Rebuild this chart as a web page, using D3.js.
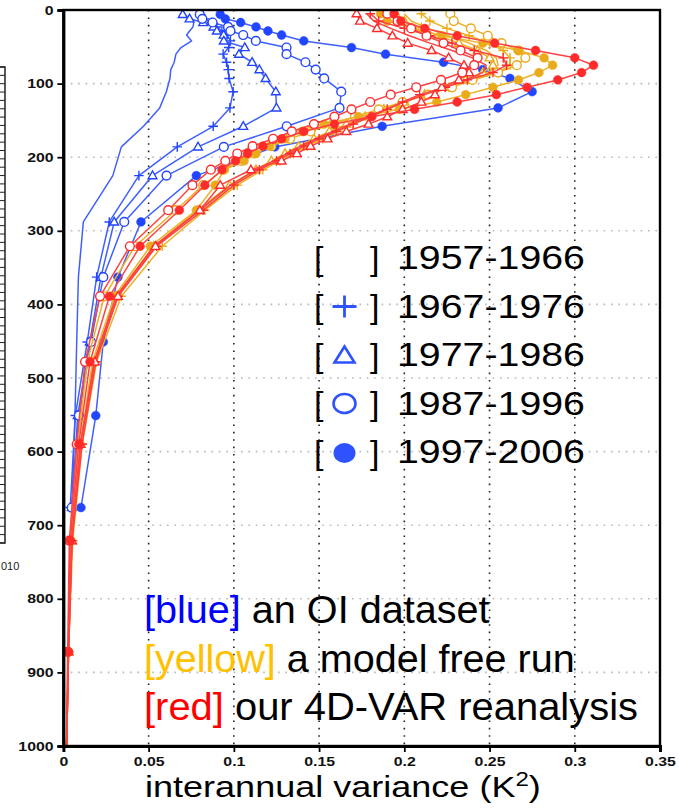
<!DOCTYPE html>
<html><head><meta charset="utf-8">
<script src="https://cdn.jsdelivr.net/npm/d3@7"></script>
<style>
html,body{margin:0;padding:0;background:#fff;}
svg{display:block;font-family:"Liberation Sans",Arial,Helvetica,sans-serif;}
</style></head><body>
<svg id="chart" width="679" height="809"></svg>
<script>
// ---------------- DATA ----------------
const xTicks = [0, 0.05, 0.1, 0.15, 0.2, 0.25, 0.3, 0.35];
const xTickLabels = ["0", "0.05", "0.1", "0.15", "0.2", "0.25", "0.3", "0.35"];
const yTicks = [0, 100, 200, 300, 400, 500, 600, 700, 800, 900, 1000];
const yTickLabels = ["0","100","200","300","400","500","600","700","800","900","1000"];

const periods = ["1957-1966", "1967-1976", "1977-1986", "1987-1996", "1997-2006"];
const periodMarkers = ["none", "plus", "triangle", "open", "filled"];

// depth levels (m)
const modelDepths = [5,15,25,35,45,55,65,75,85,95,105,115,125,135,145,155,165,175,185,195,205,217,238,272,321,389,478,590,721,872,1046];
const oiDepths = [6,12,17,23,28.5,34,42,51,60,71,81,93,111,133,158,186,225,288,363,451,551,676];

// OI dataset (blue), interannual variance K^2
const blue1957 = [0.071,0.074,0.0765,0.076,0.074,0.0723,0.0752,0.069,0.066,0.065,0.063,0.0625,0.0604,0.0565,0.047,0.034,0.029,0.0117,0.0088,0.0078,0.0068,0.005];
const blue1967 = [0.080,0.083,0.087,0.090,0.093,0.096,0.098,0.097,0.0937,0.0957,0.0967,0.0972,0.0996,0.0977,0.0879,0.0668,0.0443,0.0269,0.0195,0.014,0.007,0.004];
const blue1977 = [0.070,0.074,0.082,0.088,0.090,0.094,0.0941,0.1064,0.103,0.1107,0.115,0.1186,0.1246,0.125,0.1055,0.079,0.0523,0.0298,0.022,0.0155,0.0084,0.005];
const blue1987 = [0.080,0.0815,0.0875,0.0966,0.098,0.1055,0.1129,0.1309,0.1309,0.142,0.148,0.153,0.163,0.162,0.131,0.0941,0.0605,0.0357,0.0234,0.0162,0.0091,0.0049];
const blue1997 = [0.092,0.095,0.104,0.113,0.120,0.128,0.141,0.169,0.189,0.223,0.246,0.262,0.275,0.255,0.187,0.124,0.078,0.0455,0.032,0.0234,0.019,0.0103];

// model free run (yellow)
const yellow1957 = [0.200,0.204,0.214,0.226,0.238,0.248,0.254,0.255,0.249,0.237,0.224,0.211,0.199,0.188,0.177,0.167,0.157,0.148,0.139,0.131,0.123,0.114,0.099,0.080,0.054,0.032,0.018,0.0105,0.005,0.003,0.0015];
const yellow1967 = [0.210,0.215,0.225,0.238,0.250,0.258,0.262,0.262,0.255,0.240,0.226,0.212,0.200,0.190,0.180,0.170,0.161,0.152,0.143,0.135,0.127,0.117,0.102,0.083,0.058,0.034,0.0195,0.011,0.0055,0.003,0.0015];
const yellow1977 = [0.195,0.200,0.210,0.220,0.232,0.243,0.250,0.252,0.246,0.236,0.224,0.212,0.200,0.188,0.177,0.166,0.156,0.147,0.138,0.130,0.122,0.113,0.0975,0.079,0.053,0.031,0.018,0.010,0.005,0.003,0.0015];
const yellow1987 = [0.227,0.229,0.239,0.249,0.257,0.267,0.271,0.266,0.255,0.240,0.228,0.214,0.199,0.185,0.171,0.158,0.145,0.133,0.122,0.112,0.104,0.094,0.082,0.066,0.042,0.024,0.014,0.0085,0.004,0.0028,0.0015];
const yellow1997 = [0.186,0.190,0.205,0.222,0.246,0.267,0.282,0.287,0.279,0.267,0.252,0.236,0.219,0.197,0.173,0.153,0.140,0.130,0.121,0.113,0.106,0.0945,0.089,0.078,0.051,0.030,0.017,0.010,0.0045,0.003,0.0015];

// 4D-VAR reanalysis (red)
const red1957 = [0.178,0.182,0.192,0.203,0.215,0.228,0.240,0.248,0.246,0.236,0.224,0.212,0.200,0.189,0.178,0.168,0.158,0.148,0.139,0.131,0.123,0.113,0.098,0.080,0.053,0.031,0.018,0.010,0.005,0.003,0.0015];
const red1967 = [0.180,0.185,0.200,0.215,0.228,0.241,0.258,0.260,0.252,0.237,0.224,0.209,0.199,0.190,0.180,0.170,0.160,0.150,0.141,0.133,0.125,0.115,0.100,0.082,0.0547,0.032,0.019,0.011,0.005,0.003,0.0015];
const red1977 = [0.172,0.174,0.184,0.193,0.202,0.216,0.226,0.235,0.238,0.232,0.222,0.218,0.210,0.199,0.190,0.179,0.166,0.155,0.145,0.137,0.128,0.110,0.092,0.080,0.054,0.032,0.0185,0.010,0.005,0.003,0.0015];
const red1987 = [0.190,0.196,0.204,0.213,0.223,0.233,0.243,0.241,0.234,0.2215,0.207,0.192,0.180,0.169,0.159,0.147,0.134,0.123,0.111,0.102,0.095,0.0865,0.0757,0.0615,0.039,0.0215,0.0127,0.0078,0.0035,0.0025,0.0015];
const red1997 = [0.194,0.198,0.212,0.231,0.253,0.277,0.300,0.311,0.304,0.290,0.272,0.254,0.231,0.206,0.181,0.159,0.141,0.128,0.117,0.108,0.101,0.093,0.083,0.068,0.045,0.027,0.0156,0.009,0.004,0.0029,0.0015];

const noteTags = ["[blue]", "[yellow]", "[red]"];
const noteTexts = [" an OI dataset", " a model free run", " our 4D-VAR reanalysis"];
const xTitle = "interannual variance (K";
const xTitleSup = "2";
const fragmentLabel = "010";

// ---------------- STYLE ----------------
const dsStyle = {
  blue:   {line: "#3f60ff", mark: "#2246ff"},
  yellow: {line: "#eeb126", mark: "#eaab1a"},
  red:    {line: "#ff4242", mark: "#ff2a2a"}
};
const noteColors = ["#0000ff", "#ffc000", "#ff0000"];

const series = [
  {ds:"blue", depths: oiDepths, values: blue1957, p:0},
  {ds:"blue", depths: oiDepths, values: blue1967, p:1},
  {ds:"blue", depths: oiDepths, values: blue1977, p:2},
  {ds:"blue", depths: oiDepths, values: blue1987, p:3},
  {ds:"blue", depths: oiDepths, values: blue1997, p:4},
  {ds:"yellow", depths: modelDepths, values: yellow1957, p:0},
  {ds:"yellow", depths: modelDepths, values: yellow1967, p:1},
  {ds:"yellow", depths: modelDepths, values: yellow1977, p:2},
  {ds:"yellow", depths: modelDepths, values: yellow1987, p:3},
  {ds:"yellow", depths: modelDepths, values: yellow1997, p:4},
  {ds:"red", depths: modelDepths, values: red1957, p:0},
  {ds:"red", depths: modelDepths, values: red1967, p:1},
  {ds:"red", depths: modelDepths, values: red1977, p:2},
  {ds:"red", depths: modelDepths, values: red1987, p:3},
  {ds:"red", depths: modelDepths, values: red1997, p:4}
];

// ---------------- CHART ----------------
const svg = d3.select("#chart");
const L = 63.4, R = 660, T = 10, B = 746;
const x = d3.scaleLinear().domain([0, 0.35]).range([L, R]);
const y = d3.scaleLinear().domain([0, 1000]).range([T, B]);

// fragment of a neighbouring panel at the far left
const frag = svg.append("g");
frag.append("rect").attr("x", -2).attr("y", 67).attr("width", 7).attr("height", 476)
  .attr("fill", "none").attr("stroke", "#111").attr("stroke-width", 1.4);
d3.range(67, 543, 8.35).forEach(v => {
  frag.append("line").attr("x1", 0).attr("x2", 5).attr("y1", v).attr("y2", v)
    .attr("stroke", "#222").attr("stroke-width", 1);
});
frag.append("text").attr("x", 1).attr("y", 570).attr("font-size", 11).attr("fill", "#222").text(fragmentLabel);

// grid
const grid = svg.append("g");
grid.selectAll("line.v").data(xTicks.filter(d => d > 0 && d < 0.35)).enter().append("line")
  .attr("x1", d => x(d)).attr("x2", d => x(d)).attr("y1", T).attr("y2", B)
  .attr("stroke", "#222").attr("stroke-width", 1.6).attr("stroke-dasharray", "1.6,5.8");
grid.selectAll("line.h").data(yTicks.filter(d => d > 0 && d < 1000)).enter().append("line")
  .attr("x1", L).attr("x2", R).attr("y1", d => y(d)).attr("y2", d => y(d))
  .attr("stroke", "#b8b8b8").attr("stroke-width", 1.6).attr("stroke-dasharray", "1.6,5.8");

// clip
svg.append("defs").append("clipPath").attr("id", "plotclip")
  .append("rect").attr("x", L).attr("y", T).attr("width", R - L).attr("height", B - T);

const plot = svg.append("g").attr("clip-path", "url(#plotclip)");
const lineGen = d3.line().x(d => x(d.v)).y(d => y(d.d));

function marker(g, type, color, cx, cy, s, sw) {
  if (type === "filled") {
    g.append("circle").attr("cx", cx).attr("cy", cy).attr("r", s).attr("fill", color).attr("stroke", color).attr("stroke-width", 0.5);
  } else if (type === "open") {
    g.append("circle").attr("cx", cx).attr("cy", cy).attr("r", s).attr("fill", "#fff").attr("stroke", color).attr("stroke-width", sw);
  } else if (type === "triangle") {
    g.append("path").attr("d", `M${cx},${cy - s * 1.05}L${cx + s},${cy + s * 0.7}L${cx - s},${cy + s * 0.7}Z`)
      .attr("fill", "#fff").attr("stroke", color).attr("stroke-width", sw);
  } else if (type === "plus") {
    g.append("path").attr("d", `M${cx - s},${cy}H${cx + s}M${cx},${cy - s}V${cy + s}`)
      .attr("fill", "none").attr("stroke", color).attr("stroke-width", sw);
  }
}

series.forEach(s => {
  const pts = s.depths.map((d, i) => ({d: d, v: s.values[i]}));
  const g = plot.append("g");
  g.append("path").datum(pts).attr("d", lineGen).attr("fill", "none")
    .attr("stroke", dsStyle[s.ds].line).attr("stroke-width", 1.5).attr("stroke-linejoin", "round");
  const type = periodMarkers[s.p];
  if (type !== "none") {
    pts.forEach(p => marker(g, type, dsStyle[s.ds].mark, x(p.v), y(p.d), type === "plus" ? 4.8 : 4.4, 1.4));
  }
});

// frame
svg.append("rect").attr("x", L).attr("y", T).attr("width", R - L).attr("height", B - T)
  .attr("fill", "none").attr("stroke", "#000").attr("stroke-width", 2.4);

// axes
const gx = svg.append("g").attr("transform", `translate(0,${B})`)
  .call(d3.axisBottom(x).tickValues(xTicks).tickFormat((d, i) => xTickLabels[i]).tickSize(6).tickPadding(5));
const gy = svg.append("g").attr("transform", `translate(${L},0)`)
  .call(d3.axisLeft(y).tickValues(yTicks).tickFormat((d, i) => yTickLabels[i]).tickSize(6).tickPadding(2));
[gx, gy].forEach(g => {
  g.select(".domain").attr("stroke", "#000").attr("stroke-width", 3);
  g.selectAll(".tick line").attr("stroke", "#000").attr("stroke-width", 1.8);
  g.selectAll("text").attr("font-size", 13).attr("font-weight", "bold").attr("fill", "#111")
    .attr("font-family", "'Liberation Sans', Arial, sans-serif")
    .attr("transform", "scale(1.22,1)");
});

function fitWidth(sel, x0, target) {
  const w = sel.node().getBBox().width;
  const k = target / w;
  sel.attr("transform", `translate(${x0},0) scale(${k},1) translate(${-x0},0)`);
}

// x title
const title = svg.append("text").attr("x", 145).attr("y", 797).attr("font-size", 30).attr("fill", "#000");
title.append("tspan").text(xTitle);
title.append("tspan").attr("font-size", 20).attr("dy", -11).text(xTitleSup);
title.append("tspan").attr("dy", 11).text(")");
fitWidth(title, 145, 396);

// legend
const leg = svg.append("g");
const legColor = "#2f52ff";
periods.forEach((p, i) => {
  const base = 269.5 + i * 48.5;
  leg.append("text").attr("x", 314).attr("y", base).attr("font-size", 34).attr("fill", "#000").text("[");
  leg.append("text").attr("x", 370).attr("y", base).attr("font-size", 34).attr("fill", "#000").text("]");
  const t = leg.append("text").attr("x", 397).attr("y", base).attr("font-size", 34).attr("fill", "#000").text(p);
  fitWidth(t, 397, 188);
  const cy = base - 11.5, cx = 344.5;
  const type = periodMarkers[i];
  if (type === "plus") {
    leg.append("path").attr("d", `M${cx - 12},${cy}H${cx + 12}M${cx},${cy - 11}V${cy + 11}`)
      .attr("stroke", legColor).attr("stroke-width", 2.8).attr("fill", "none");
  } else if (type === "triangle") {
    leg.append("path").attr("d", `M${cx},${cy - 8.5}L${cx + 10},${cy + 7.5}L${cx - 10},${cy + 7.5}Z`)
      .attr("stroke", legColor).attr("stroke-width", 2.6).attr("fill", "none");
  } else if (type === "open") {
    leg.append("ellipse").attr("cx", cx).attr("cy", cy).attr("rx", 11).attr("ry", 9.5)
      .attr("stroke", legColor).attr("stroke-width", 2.6).attr("fill", "none");
  } else if (type === "filled") {
    leg.append("ellipse").attr("cx", cx).attr("cy", cy + 1).attr("rx", 11).attr("ry", 10)
      .attr("fill", legColor);
  }
});

// notes
const noteWidths = [346, 431, 494];
noteTags.forEach((tag, i) => {
  const base = 623.5 + i * 48.3;
  const t = svg.append("text").attr("x", 144).attr("y", base).attr("font-size", 38).attr("fill", "#000");
  t.append("tspan").attr("fill", noteColors[i]).text(tag);
  t.append("tspan").attr("fill", "#000").text(noteTexts[i]);
  fitWidth(t, 144, noteWidths[i]);
});
</script>
</body></html>
